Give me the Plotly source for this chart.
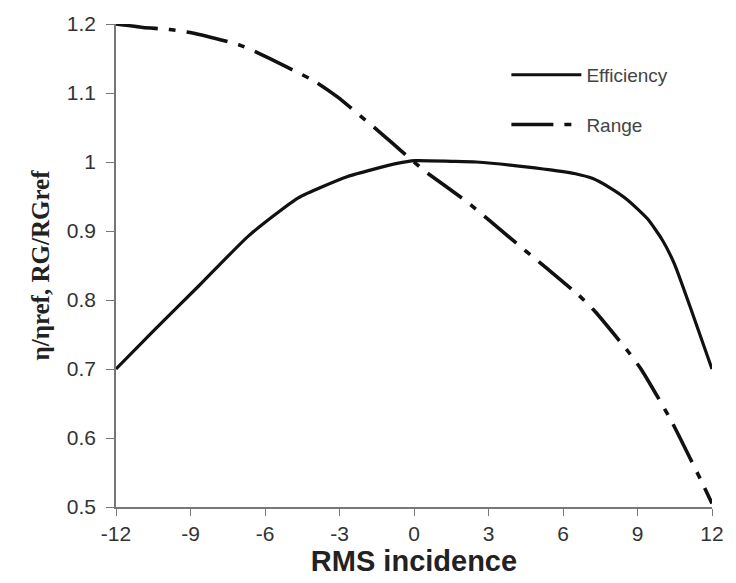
import plotly.graph_objects as go

eff_x = [-12, -10.5, -8.65, -6.66, -4.66, -2.67, -0.68, 0.05, 1.5, 2.5, 4.5, 6.5, 7.2, 7.83, 8.6, 9.42, 10.0, 10.49, 11.2, 12]
eff_y = [0.70, 0.755, 0.821, 0.893, 0.948, 0.979, 0.998, 1.002, 1.001, 1.0, 0.993, 0.983, 0.976, 0.964, 0.945, 0.917, 0.887, 0.852, 0.782, 0.70]

rng_x = [-12, -10.91, -9.85, -8.92, -7.06, -6.39, -4.0, -3.07, -1.21, -0.54, 0.39, 2.11, 4.1, 6.63, 7.3, 8.63, 9.16, 10.36, 11.55, 12]
rng_y = [1.20, 1.195, 1.192, 1.187, 1.170, 1.160, 1.117, 1.094, 1.038, 1.017, 0.988, 0.943, 0.883, 0.807, 0.783, 0.725, 0.699, 0.625, 0.539, 0.505]

x_ticks = [-12, -9, -6, -3, 0, 3, 6, 9, 12]
x_tick_text = ["-12", "-9", "-6", "-3", "0", "3", "6", "9", "12"]
y_ticks = [0.5, 0.6, 0.7, 0.8, 0.9, 1.0, 1.1, 1.2]
y_tick_text = ["0.5", "0.6", "0.7", "0.8", "0.9", "1", "1.1", "1.2"]

fig = go.Figure()
fig.add_trace(go.Scatter(x=eff_x, y=eff_y, mode="lines", name="Efficiency",
                         line=dict(color="#111111", width=3.2, shape="spline", smoothing=0.5),
                         legendgroup="a", cliponaxis=False))
fig.add_trace(go.Scatter(x=rng_x, y=rng_y, mode="lines", name="Range",
                         line=dict(color="#111111", width=3.6, dash="42px,11px,7px,11px",
                                   shape="spline", smoothing=0.5),
                         legendgroup="b", cliponaxis=False))

fig.update_layout(
    width=736, height=583,
    margin=dict(l=116, r=18, t=19, b=76),
    paper_bgcolor="white", plot_bgcolor="white",
    font=dict(family="Arial, Liberation Sans, sans-serif", color="#333333"),
    showlegend=True,
    legend=dict(x=0.655, y=0.934, xanchor="left", yanchor="top",
                font=dict(size=19, color="#444444"), itemwidth=70,
                tracegroupgap=22, bgcolor="rgba(0,0,0,0)"),
    xaxis=dict(range=[-12, 12], tickmode="array", tickvals=x_ticks, ticktext=x_tick_text,
               showgrid=False, zeroline=False, showline=True, linecolor="#777777", linewidth=1.5,
               ticks="outside", ticklen=7, tickcolor="#777777",
               tickfont=dict(size=21, color="#333333"),
               title=dict(text="<b>RMS incidence</b>", font=dict(size=29, color="#222222"), standoff=4)),
    yaxis=dict(range=[0.5, 1.2], tickmode="array", tickvals=y_ticks, ticktext=y_tick_text,
               showgrid=False, zeroline=False, showline=True, linecolor="#777777", linewidth=1.5,
               ticks="outside", ticklen=8, tickcolor="#777777", ticklabelstandoff=6,
               tickfont=dict(size=21, color="#333333"),
               title=dict(text="<b>η/ηref, RG/RGref</b>",
                          font=dict(size=25, family="Liberation Serif, Times New Roman, serif", color="#222222"),
                          standoff=10)),
)

fig.write_html("out.html")
